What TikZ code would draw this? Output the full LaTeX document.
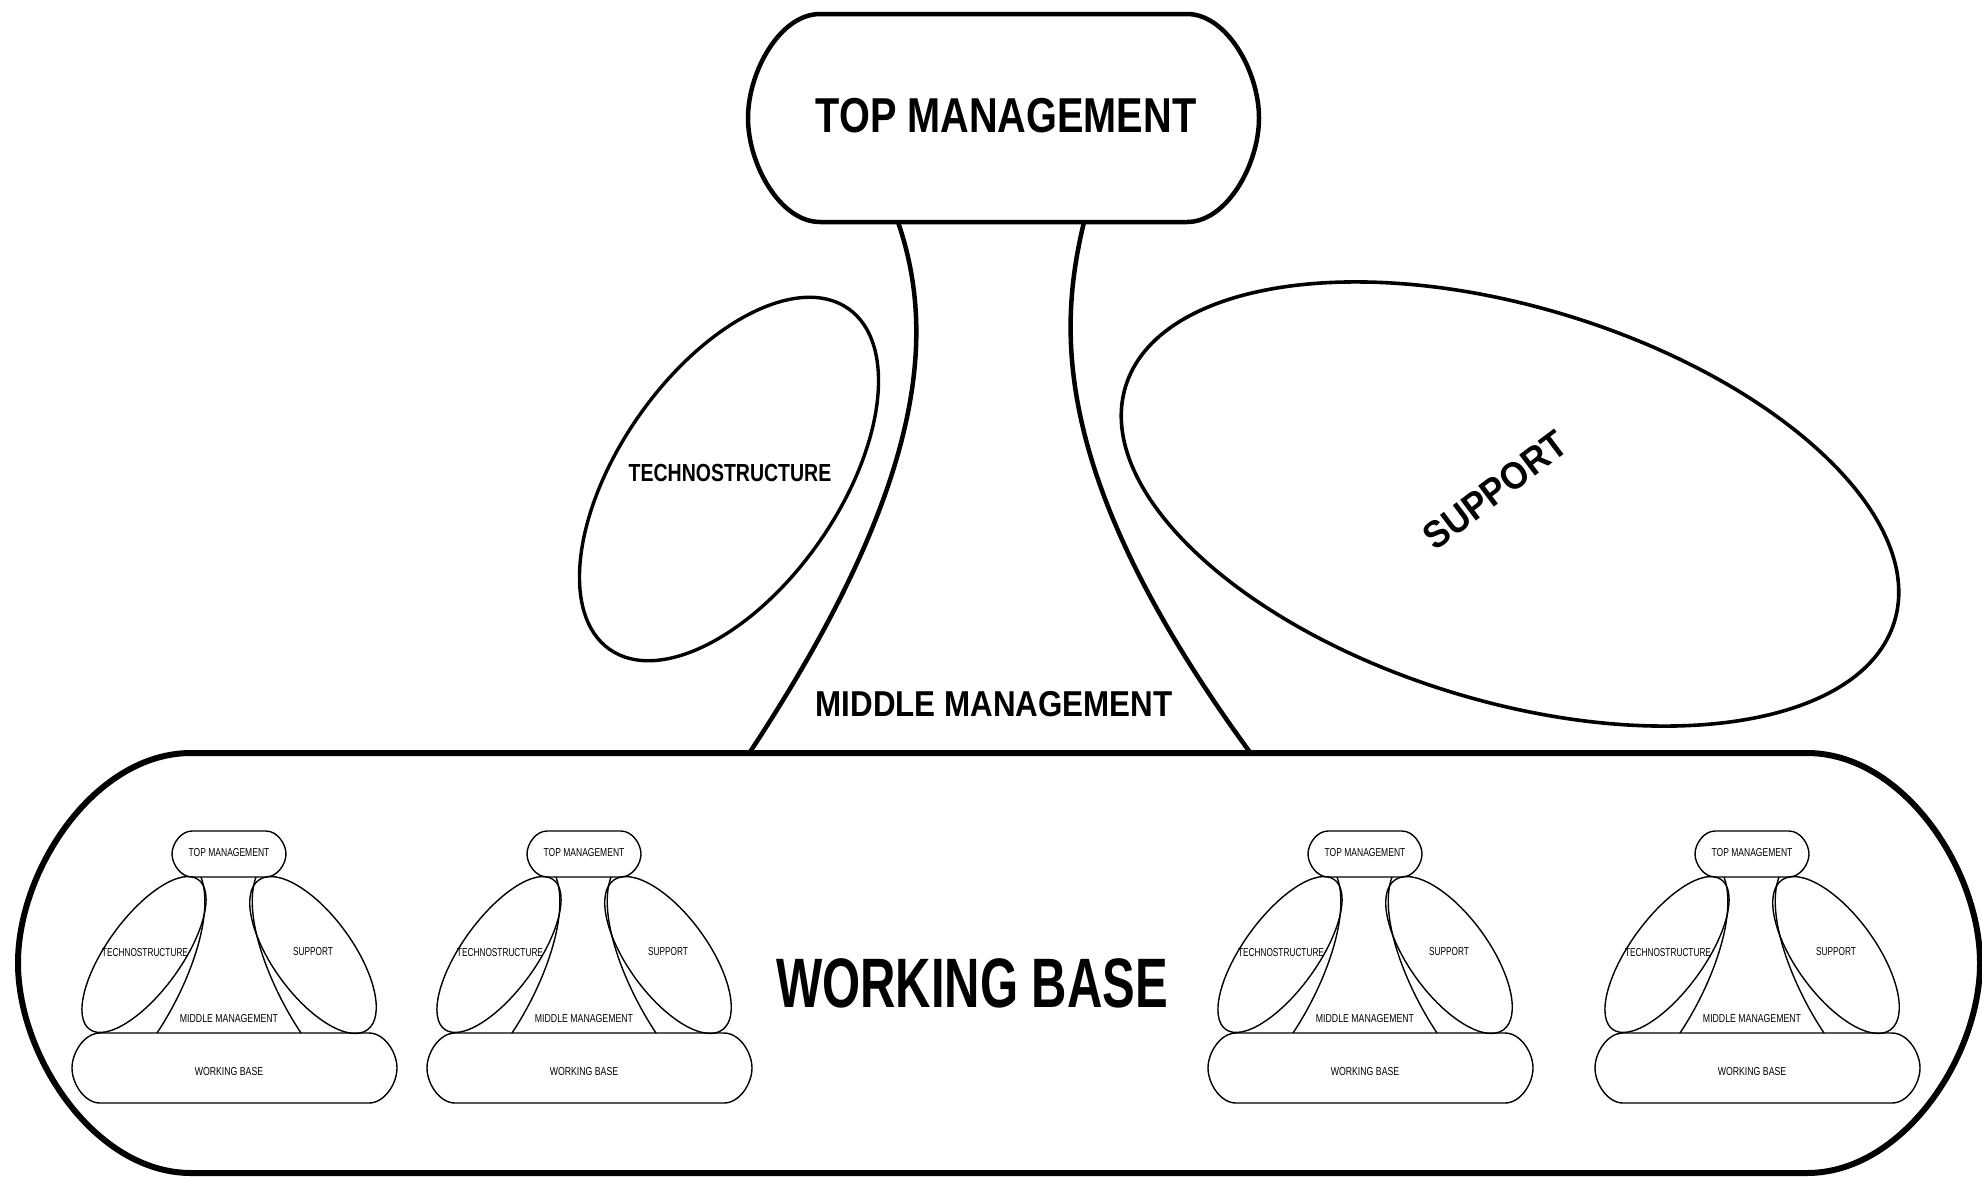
\documentclass[tikz,border=0pt]{standalone}
\usepackage{fontspec}
\setmainfont{Liberation Sans}
\usepackage{graphicx}
\usetikzlibrary{shapes.geometric}
% oval box with elliptic ends: [style]{x1}{y1}{x2}{y2}{rx}
\newcommand\ovalbox[6][]{%
  \draw[#1] ({#2+#6},{#3}) -- ({#4-#6},{#3})
    .. controls ({#4-0.4477*#6},{#3}) and ({#4},{#3+0.2762*(#5-#3)}) .. ({#4},{(#3+#5)/2})
    .. controls ({#4},{#5-0.2762*(#5-#3)}) and ({#4-0.4477*#6},{#5}) .. ({#4-#6},{#5})
    -- ({#2+#6},{#5})
    .. controls ({#2+0.4477*#6},{#5}) and ({#2},{#5-0.2762*(#5-#3)}) .. ({#2},{(#3+#5)/2})
    .. controls ({#2},{#3+0.2762*(#5-#3)}) and ({#2+0.4477*#6},{#3}) .. ({#2+#6},{#3}) -- cycle;}
\tikzset{
  bigline/.style={line width=4.5pt, line join=round},
  wbline/.style={line width=6pt, line join=round},
  miniline/.style={line width=1.4pt, line join=round},
  bigell/.style={ellipse, draw, line width=3.6pt, inner sep=0pt},
  miniell/.style={ellipse, draw, line width=1.4pt, inner sep=0pt, minimum width=185pt},
  txt/.style={inner sep=0pt, text=black},
  minitxt/.style={inner sep=0pt, text=black, font=\fontsize{11.5}{12}\selectfont},
}
\newcommand\sx[2]{\scalebox{#1}[1]{#2}}
\begin{document}
\begin{tikzpicture}[x=1pt,y=-1pt]
\fill[white] (0,0) rectangle (1982,1179);
\useasboundingbox (0,0) rectangle (1982,1179);

% big working base
\ovalbox[wbline]{18}{753}{1980}{1173}{173}

% mini organisations
\foreach \i/\cx in {1/229,2/584,3/1365,4/1752}{
  \ovalbox[miniline]{\cx-157}{1033}{\cx+168}{1103}{28}
  \ovalbox[miniline]{\cx-57}{831}{\cx+57}{877}{20}
  \draw[miniline] ({\cx-28},877) .. controls ({\cx-14},915) and ({\cx-40},985) .. ({\cx-72},1033);
  \draw[miniline] ({\cx+27},877) .. controls ({\cx+13},915) and ({\cx+40},985) .. ({\cx+72},1033);
  \node[miniell, minimum height=74pt, rotate=54] (mte\i) at ({\cx-85},954.5) {};
  \node[miniell, minimum height=80pt, rotate=-54] (msu\i) at ({\cx+84},955) {};
  \node[minitxt] (ttm\i) at (\cx,853) {\sx{0.74}{TOP MANAGEMENT}};
  \node[minitxt] (tte\i) at ({\cx-84},953) {\sx{0.72}{TECHNOSTRUCTURE}};
  \node[minitxt] (tsu\i) at ({\cx+84},952) {\sx{0.72}{SUPPORT}};
  \node[minitxt] (tmm\i) at (\cx,1019) {\sx{0.76}{MIDDLE MANAGEMENT}};
  \node[minitxt] (twb\i) at ({\cx},1072) {\sx{0.76}{WORKING BASE}};
}

% big top part
\draw[bigline] (898,222) .. controls (935,330) and (930,480) .. (748,755);
\draw[bigline] (1084,222) .. controls (1058,330) and (1050,480) .. (1252,755);
\ovalbox[bigline]{748}{14}{1259}{222}{72}
\node[bigell, line width=3.4pt, minimum width=416pt, minimum height=220pt, rotate=55] (tech) at (729,479) {};
\node[bigell, minimum width=804pt, minimum height=394pt, rotate=-17] (supp) at (1510,504) {};

\node[txt, font=\fontsize{49}{50}\selectfont\bfseries] (ttop) at (1006,116) {\sx{0.81}{TOP MANAGEMENT}};
\node[txt, font=\fontsize{24.7}{26}\selectfont\bfseries] (ttech) at (730,473) {\sx{0.79}{TECHNOSTRUCTURE}};
\node[txt, font=\fontsize{38}{40}\selectfont\bfseries, rotate=37] (tsupp) at (1495,490) {\sx{0.92}{SUPPORT}};
\node[txt, font=\fontsize{36}{38}\selectfont\bfseries] (tmid) at (994,704) {\sx{0.87}{MIDDLE MANAGEMENT}};
\node[txt, font=\fontsize{70}{72}\selectfont\bfseries] (twb) at (972,983) {\sx{0.70}{WORKING BASE}};
\end{tikzpicture}
\end{document}
